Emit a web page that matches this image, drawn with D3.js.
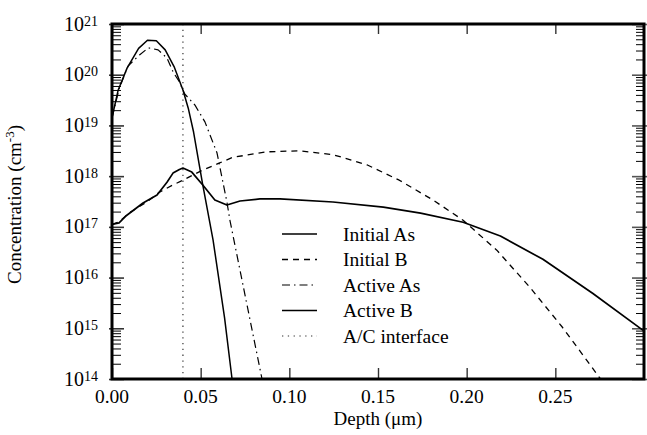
<!DOCTYPE html>
<html><head><meta charset="utf-8">
<script src="https://cdn.jsdelivr.net/npm/d3@7"></script>
<style>
body{margin:0;background:#fff}
svg{display:block}
text{font-family:"Liberation Serif","Times New Roman",Times,serif;fill:#000}
</style>
</head><body>
<svg id="chart" width="647" height="435"></svg>
<script>
// ---- data (concentrations stored as log10 of cm^-3) ----
const depthInitialAs = [0, 0.0035, 0.0085, 0.015, 0.02, 0.025, 0.03, 0.035, 0.04, 0.043, 0.046, 0.051, 0.057, 0.0635, 0.0677];
const logInitialAs   = [19.15, 19.7, 20.13, 20.52, 20.68, 20.67, 20.49, 20.16, 19.7, 19.34, 18.87, 17.86, 16.74, 15.2, 14.0];

const depthInitialB = [0, 0.004, 0.01, 0.02, 0.027, 0.034, 0.04, 0.05, 0.06, 0.068, 0.0874, 0.106, 0.125, 0.144, 0.162, 0.181, 0.198, 0.217, 0.2356, 0.254, 0.2755];
const logInitialB   = [17.05, 17.1, 17.28, 17.5, 17.69, 17.82, 17.92, 18.1, 18.25, 18.37, 18.48, 18.5, 18.42, 18.22, 17.92, 17.53, 17.13, 16.54, 15.81, 15.02, 14.0];

const depthActiveAs = [0, 0.004, 0.009, 0.0155, 0.0205, 0.026, 0.031, 0.0345, 0.038, 0.041, 0.0468, 0.0524, 0.0592, 0.0648, 0.0665, 0.0755, 0.0846];
const logActiveAs   = [19.15, 19.72, 20.17, 20.39, 20.53, 20.49, 20.33, 20.05, 19.86, 19.62, 19.4, 19.07, 18.46, 17.49, 17.13, 15.57, 14.0];

const depthActiveB = [0, 0.004, 0.008, 0.0175, 0.0254, 0.031, 0.0344, 0.038, 0.040, 0.045, 0.0513, 0.058, 0.0648, 0.0722, 0.0834, 0.0947, 0.1246, 0.153, 0.174, 0.198, 0.219, 0.243, 0.271, 0.2995];
const logActiveB   = [17.05, 17.08, 17.22, 17.47, 17.63, 17.88, 18.06, 18.13, 18.16, 18.08, 17.82, 17.53, 17.43, 17.51, 17.55, 17.55, 17.49, 17.39, 17.27, 17.09, 16.82, 16.36, 15.69, 14.96];

const interfaceDepth = 0.04;

const xTickValues = [0, 0.05, 0.10, 0.15, 0.20, 0.25];
const xTickLabels = ["0.00", "0.05", "0.10", "0.15", "0.20", "0.25"];
const yDecades = [14, 15, 16, 17, 18, 19, 20, 21];
const legendLabels = ["Initial As", "Initial B", "Active As", "Active B", "A/C interface"];

// ---- layout ----
const L = 112, R = 644, T = 24, B = 379;

const svg = d3.select("#chart");
const x = d3.scaleLinear().domain([0, 0.3]).range([L, R]);
const y = d3.scaleLog().domain([1e14, 1e21]).range([B, T]);

const styles = [
  {dash: null, w: 1.5},
  {dash: "6,5", w: 1.3},
  {dash: "8,4,1.5,4", w: 1.2},
  {dash: null, w: 1.7},
  {dash: "1.3,4.5", w: 1.2, color: "#333"}
];

svg.append("defs").append("clipPath").attr("id", "plotclip")
  .append("rect").attr("x", L).attr("y", T).attr("width", R - L).attr("height", B - T);

const minorVals = [];
yDecades.slice(0, -1).forEach(e => { for (let m = 2; m <= 9; m++) minorVals.push(m * Math.pow(10, e)); });
const majorVals = yDecades.map(e => Math.pow(10, e));

function styleAxis(g, color, width) {
  g.select(".domain").remove();
  g.selectAll(".tick line").attr("stroke", color).attr("stroke-width", width);
  g.selectAll(".tick text").remove();
}

svg.append("g").attr("transform", `translate(${L},0)`)
  .call(d3.axisLeft(y).tickValues(minorVals).tickSizeInner(-9).tickSizeOuter(0).tickFormat(""))
  .call(g => styleAxis(g, "#000", 1));
svg.append("g").attr("transform", `translate(${L + 12},0)`)
  .call(d3.axisLeft(y).tickValues(majorVals).tickSizeInner(15).tickSizeOuter(0).tickFormat(""))
  .call(g => styleAxis(g, "#333", 1.6));
svg.append("g").attr("transform", `translate(${R},0)`)
  .call(d3.axisRight(y).tickValues(minorVals).tickSizeInner(-8).tickSizeOuter(0).tickFormat(""))
  .call(g => styleAxis(g, "#000", 1));
svg.append("g").attr("transform", `translate(${R - 12},0)`)
  .call(d3.axisRight(y).tickValues(majorVals).tickSizeInner(15).tickSizeOuter(0).tickFormat(""))
  .call(g => styleAxis(g, "#555", 1.6));

svg.append("g").attr("transform", `translate(0,${B})`)
  .call(d3.axisBottom(x).tickValues(xTickValues).tickSizeInner(-11).tickSizeOuter(0).tickFormat(""))
  .call(g => styleAxis(g, "#333", 1.4));
svg.append("g").attr("transform", `translate(0,${T})`)
  .call(d3.axisTop(x).tickValues(xTickValues).tickSizeInner(-10).tickSizeOuter(0).tickFormat(""))
  .call(g => styleAxis(g, "#333", 1.4));

svg.append("g").selectAll("text").data(xTickValues).join("text")
  .attr("x", d => x(d)).attr("y", 403)
  .attr("text-anchor", "middle").attr("font-size", 19.5)
  .text((d, i) => xTickLabels[i]);

const yl = svg.append("g").selectAll("text").data(yDecades).join("text")
  .attr("x", 98).attr("y", d => y(Math.pow(10, d)) + 6.5)
  .attr("text-anchor", "end").attr("font-size", 20);
yl.append("tspan").text("10");
yl.append("tspan").attr("dy", -5).attr("font-size", 14).text(d => d);

svg.append("text").attr("x", (L + R) / 2).attr("y", 425)
  .attr("text-anchor", "middle").attr("font-size", 19).text("Depth (\u03bcm)");
const yt = svg.append("text")
  .attr("transform", `translate(21,${(T + B) / 2 + 3}) rotate(-90)`)
  .attr("text-anchor", "middle").attr("font-size", 19);
yt.append("tspan").text("Concentration (cm");
yt.append("tspan").attr("dy", -7).attr("font-size", 13).text("-3");
yt.append("tspan").attr("dy", 7).text(")");

const series = [
  [depthInitialAs, logInitialAs],
  [depthInitialB, logInitialB],
  [depthActiveAs, logActiveAs],
  [depthActiveB, logActiveB]
];
const line = d3.line().x(d => x(d[0])).y(d => y(Math.pow(10, d[1])));
const plot = svg.append("g").attr("clip-path", "url(#plotclip)");

plot.append("line")
  .attr("x1", x(interfaceDepth)).attr("x2", x(interfaceDepth))
  .attr("y1", T).attr("y2", B)
  .attr("stroke", styles[4].color).attr("stroke-width", styles[4].w)
  .attr("stroke-dasharray", styles[4].dash);

series.forEach(([dx, dy], i) => {
  plot.append("path")
    .attr("d", line(dx.map((v, j) => [v, dy[j]])))
    .attr("fill", "none").attr("stroke", "#000")
    .attr("stroke-width", styles[i].w)
    .attr("stroke-dasharray", styles[i].dash)
    .attr("stroke-linejoin", "round");
});

svg.append("rect").attr("x", L).attr("y", T).attr("width", R - L).attr("height", B - T)
  .attr("fill", "none").attr("stroke", "#000").attr("stroke-width", 3);

const lg = svg.append("g");
legendLabels.forEach((lab, i) => {
  const ly = 234 + i * 25.5;
  lg.append("line").attr("x1", 282).attr("x2", 317).attr("y1", ly).attr("y2", ly)
    .attr("stroke", styles[i].color || "#000").attr("stroke-width", styles[i].w)
    .attr("stroke-dasharray", styles[i].dash);
  lg.append("text").attr("x", 343).attr("y", ly + 6.5).attr("font-size", 19.5).text(lab);
});
</script>
</body></html>
